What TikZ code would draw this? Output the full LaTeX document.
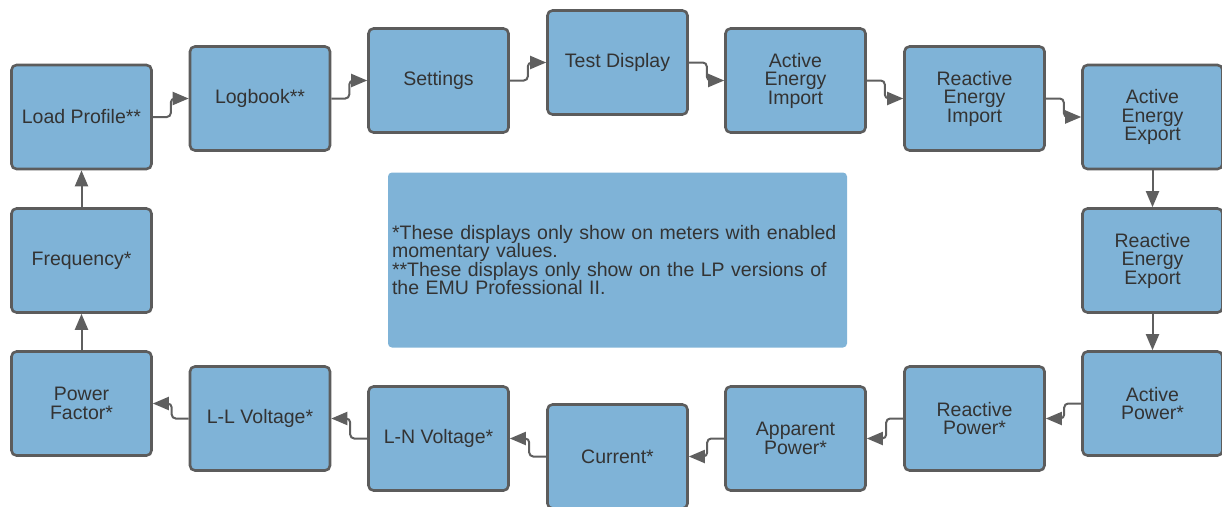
\documentclass[tikz,border=0pt]{standalone}
\usepackage{fontspec}
\setmainfont{Liberation Sans}
\usetikzlibrary{arrows.meta}
\definecolor{boxblue}{HTML}{7FB3D7}
\definecolor{boxedge}{HTML}{5C5C5C}
\definecolor{linegray}{HTML}{5F5F5F}
\definecolor{txtgray}{HTML}{333333}
\tikzset{
  display/.style={draw=boxedge, line width=2.6pt, fill=boxblue, rounded corners=5pt,
    minimum width=140pt, minimum height=104pt, inner sep=0pt, align=center,
    text=txtgray, font=\fontsize{19.5}{18.5}\selectfont},
  flow/.style={draw=linegray, line width=2pt, rounded corners=4pt,
    -{Triangle[length=16pt,width=13pt]}},
}
\begin{document}
\begin{tikzpicture}[x=1pt,y=-1pt]
\useasboundingbox (0,0) rectangle (1222,506);

% top row
\node[display] (lp) at (81.5,117) {Load Profile**};
\node[display] (logbook) at (260,98.5) {Logbook**};
\node[display] (settings) at (438.5,80.5) {Settings};
\node[display] (testdisp) at (617.5,62.5) {Test Display};
\node[display] (aeimport) at (795.5,80.5) {Active\\Energy\\Import};
\node[display] (reimport) at (974.5,98.5) {Reactive\\Energy\\Import};
\node[display] (aeexport) at (1152.5,117) {Active\\Energy\\Export};

% right side and bottom row
\node[display] (reexport) at (1152.5,260.5) {Reactive\\Energy\\Export};
\node[display] (actpower) at (1152.5,403.5) {Active\\Power*};
\node[display] (reactpower) at (974.5,418.5) {Reactive\\Power*};
\node[display] (apppower) at (795.5,438.5) {Apparent\\Power*};
\node[display] (current) at (617.5,456.5) {Current*};
\node[display] (lnvolt) at (438.5,438.5) {L-N Voltage*};
\node[display] (llvolt) at (260,418.5) {L-L Voltage*};
\node[display] (pf) at (81.5,403.5) {Power\\Factor*};
\node[display] (freq) at (81.5,260.5) {Frequency*};

% footnote box
\node[fill=boxblue, rounded corners=4pt, minimum width=459pt, minimum height=175pt,
  inner sep=4pt, text width=451pt, align=left, text=txtgray,
  font=\fontsize{19.5}{18.5}\selectfont] (note) at (617.5,260)
  {*These displays only show on meters with enabled\\momentary values.\\{}**These displays only show on the LP versions of\\the EMU Professional II.};

%-------------------------------------
\draw[flow] (lp.east) -- ++(18,0) |- (logbook.west);
\draw[flow] (logbook.east) -- ++(18,0) |- (settings.west);
\draw[flow] (settings.east) -- ++(18,0) |- (testdisp.west);
\draw[flow] (testdisp.east) -- ++(18,0) |- (aeimport.west);
\draw[flow] (aeimport.east) -- ++(18,0) |- (reimport.west);
\draw[flow] (reimport.east) -- ++(18,0) |- (aeexport.west);
\draw[flow] (aeexport.south) -- (reexport.north);
\draw[flow] (reexport.south) -- (actpower.north);
\draw[flow] (actpower.west) -- ++(-17,0) |- (reactpower.east);
\draw[flow] (reactpower.west) -- ++(-17,0) |- (apppower.east);
\draw[flow] (apppower.west) -- ++(-17,0) |- (current.east);
\draw[flow] (current.west) -- ++(-17,0) |- (lnvolt.east);
\draw[flow] (lnvolt.west) -- ++(-17,0) |- (llvolt.east);
\draw[flow] (llvolt.west) -- ++(-17,0) |- (pf.east);
\draw[flow] (pf.north) -- (freq.south);
\draw[flow] (freq.north) -- (lp.south);

\end{tikzpicture}
\end{document}
